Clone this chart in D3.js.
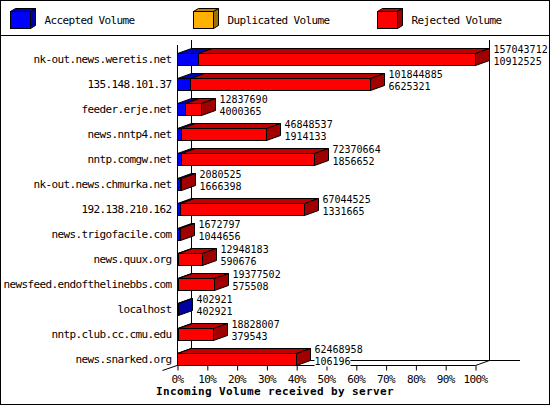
<!DOCTYPE html>
<html><head><meta charset="utf-8">
<script src="https://cdn.jsdelivr.net/npm/d3@7/dist/d3.min.js"></script>
<style>
html,body{margin:0;padding:0;background:#fff;}
svg text{font-family:"DejaVu Sans Mono",monospace;}
</style></head>
<body><svg id="c" width="550" height="405"></svg>
<script>
const categories = ["nk-out.news.weretis.net","135.148.101.37","feeder.erje.net","news.nntp4.net","nntp.comgw.net","nk-out.news.chmurka.net","192.138.210.162","news.trigofacile.com","news.quux.org","newsfeed.endofthelinebbs.com","localhost","nntp.club.cc.cmu.edu","news.snarked.org"];
const offered = [157043712,101844885,12837690,46848537,72370664,2080525,67044525,1672797,12948183,19377502,402921,18828007,62468958];
const accepted = [10912525,6625321,4000365,1914133,1856652,1666398,1331665,1044656,590676,575508,402921,379543,106196];
const duplicated = [0,0,0,0,0,0,0,0,0,0,0,0,0];
const seriesNames = ["Accepted Volume","Duplicated Volume","Rejected Volume"];
const tickValues = [0,10,20,30,40,50,60,70,80,90,100];
const xTitle = "Incoming Volume received by server";

const colors = [
  {front:"#0000ff", top:"#0000c0", side:"#0000a0"},
  {front:"#ffb000", top:"#c08400", side:"#a07000"},
  {front:"#ff0000", top:"#c00000", side:"#a00000"}
];
const rejected = offered.map((o,i)=>o-accepted[i]-duplicated[i]);
const series = [accepted, duplicated, rejected];
const maxTot = d3.max(offered);

const svg = d3.select("#c");
const W=550,H=405;
const DX=14, DY=5;
const x = d3.scaleLinear().domain([0,100]).range([177,475]);
const y = d3.scaleBand().domain(categories).range([40,365]);
const pct = v => v/maxTot*100;
const P = v => Math.round(v)+0.5;

svg.append("rect").attr("x",0.5).attr("y",0.5).attr("width",W-1).attr("height",H-1)
  .attr("fill","#fff").attr("stroke","#000");
svg.append("line").attr("x1",0).attr("x2",W).attr("y1",35.5).attr("y2",35.5).attr("stroke","#000");

// legend
const legX = [10,193,377];
seriesNames.forEach((n,i)=>{
  const g = svg.append("g");
  const x0=legX[i]+0.5, x1=x0+20, y0=11.5, y1=28.5, dx=5, dy=3;
  g.append("polygon").attr("points",[[x0,y0],[x0+dx,y0-dy],[x1+dx,y0-dy],[x1,y0]].join(" "))
    .attr("fill",colors[i].top).attr("stroke","#000");
  g.append("polygon").attr("points",[[x1,y0],[x1+dx,y0-dy],[x1+dx,y1-dy],[x1,y1]].join(" "))
    .attr("fill",colors[i].side).attr("stroke","#000");
  g.append("rect").attr("x",x0).attr("y",y0).attr("width",20).attr("height",17)
    .attr("fill",colors[i].front).attr("stroke","#000");
  g.append("text").attr("x",legX[i]+34.5).attr("y",20).attr("dy","0.36em")
    .attr("font-size",11).attr("letter-spacing",-0.62).text(n);
});

// frame / axes
const ln = (x1,y1,x2,y2)=>svg.append("line").attr("x1",x1).attr("y1",y1).attr("x2",x2).attr("y2",y2).attr("stroke","#000");
ln(P(x(0))+DX,40,P(x(0))+DX,360.5);
ln(P(x(100))+DX,40,P(x(100))+DX,360.5);
ln(P(x(0))+DX,360.5,520,360.5);
ln(P(x(0))-15,370.5,P(x(0))+DX,360.5);
ln(P(x(100)),365.5,P(x(100))+DX,360.5);
ln(P(x(0)),45,P(x(0)),365.5);

const axis = d3.axisBottom(x).tickValues(tickValues).tickSize(5).tickPadding(3).tickFormat(d=>d+"%");
const ag = svg.append("g").attr("transform","translate(0,365.5)").call(axis);
ag.select(".domain").attr("d",`M${P(x(0))},0H${P(x(100))}`).attr("stroke","#000");
ag.selectAll(".tick line").attr("stroke","#000").attr("transform","translate(0.5,0)");
ag.selectAll(".tick text").attr("font-family","DejaVu Sans Mono").attr("font-size",11)
  .attr("letter-spacing",-0.62).attr("fill","#000").attr("dy","0.9em");

// bars
categories.forEach((c,i)=>{
  const g = svg.append("g");
  const top = y(c)+13.5, bot = top+12;
  let cum = 0, lastEnd = null, lastIdx = -1;
  series.forEach((s,k)=>{
    const v = s[i]; if(v<=0) return;
    const xa = P(x(pct(cum))), xb = P(x(pct(cum+v)));
    cum += v;
    g.append("polygon").attr("points",[[xa,top],[xa+DX,top-DY],[xb+DX,top-DY],[xb,top]].join(" "))
      .attr("fill",colors[k].top).attr("stroke","#000");
    g.append("rect").attr("x",xa).attr("y",top).attr("width",Math.max(0,xb-xa)).attr("height",12)
      .attr("fill",colors[k].front).attr("stroke","#000");
    lastEnd = xb; lastIdx = k;
  });
  if(lastIdx>=0){
    g.append("polygon").attr("points",[[lastEnd,top],[lastEnd+DX,top-DY],[lastEnd+DX,bot-DY],[lastEnd,bot]].join(" "))
      .attr("fill",colors[lastIdx].side).attr("stroke","#000");
  }
  const lx = lastEnd + DX + 4;
  const cy = y(c)+19.5;
  [[offered[i], cy-10],[accepted[i], cy+2]].forEach(([v,yy])=>{
    const s = String(v);
    svg.append("rect").attr("x",lx).attr("y",yy-5).attr("width",s.length*6).attr("height",10).attr("fill","#fff");
    svg.append("text").attr("x",lx).attr("y",yy).attr("dy","0.36em").attr("font-size",10).text(s);
  });
  svg.append("text").attr("x",171.5).attr("y",cy).attr("dy","0.36em").attr("text-anchor","end")
    .attr("font-size",11).attr("letter-spacing",-0.62).text(c);
});

svg.append("text").attr("x",275).attr("y",391.5).attr("dy","0.36em").attr("text-anchor","middle")
  .attr("font-size",11).attr("font-weight","bold").attr("letter-spacing",0.38).text(xTitle);
</script></body></html>
